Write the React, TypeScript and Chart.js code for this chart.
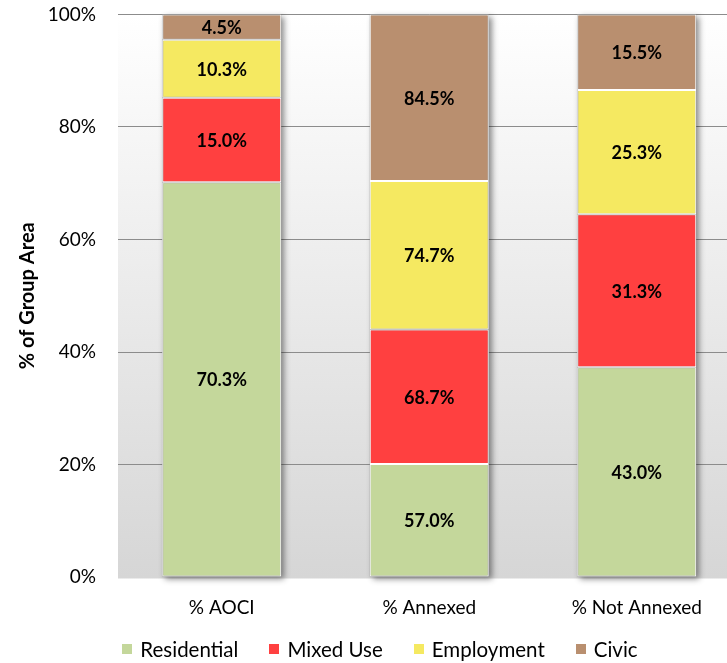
import React, { useEffect, useRef } from "react";
import { Chart, registerables } from "chart.js";

Chart.register(...registerables);

const FONT = "Lato, 'Open Sans', sans-serif";

const categories = ["% AOCI", "% Annexed", "% Not Annexed"];
const seriesNames = ["Residential", "Mixed Use", "Employment", "Civic"];

// segment heights (share of group area, %)
const residential = [70.2, 20.1, 37.3];
const mixedUse = [15.0, 23.9, 27.2];
const employment = [10.3, 26.4, 22.1];
const civic = [4.5, 29.6, 13.4];

// data labels printed in the segments
const residentialLabels = ["70.3%", "57.0%", "43.0%"];
const mixedUseLabels = ["15.0%", "68.7%", "31.3%"];
const employmentLabels = ["10.3%", "74.7%", "25.3%"];
const civicLabels = ["4.5%", "84.5%", "15.5%"];

const yMin = 0;
const yMax = 100;
const yStep = 20;

const colors = ["#c4d79b", "#ff4040", "#f5e961", "#b98f6f"];

const seriesValues = [residential, mixedUse, employment, civic];
const seriesLabels = [residentialLabels, mixedUseLabels, employmentLabels, civicLabels];

const bgPlugin = {
  id: "plotBg",
  beforeDraw(chart: any) {
    const { ctx, chartArea } = chart;
    if (!chartArea) return;
    const g = ctx.createLinearGradient(0, chartArea.top, 0, chartArea.bottom);
    g.addColorStop(0, "#ffffff");
    g.addColorStop(1, "#d6d6d6");
    ctx.save();
    ctx.fillStyle = g;
    ctx.fillRect(chartArea.left, chartArea.top, chartArea.right - chartArea.left, chartArea.bottom - chartArea.top + 1.5);
    ctx.restore();
  },
};

const shadowPlugin = {
  id: "barShadow",
  beforeDatasetsDraw(chart: any) {
    const ctx = chart.ctx;
    const metas = chart.data.datasets.map((_: any, i: number) => chart.getDatasetMeta(i));
    const n = chart.data.labels.length;
    ctx.save();
    ctx.shadowColor = "rgba(0,0,0,0.45)";
    ctx.shadowBlur = 6;
    ctx.shadowOffsetX = 3;
    ctx.shadowOffsetY = 2;
    ctx.fillStyle = "#9a9a9a";
    for (let j = 0; j < n; j++) {
      let top = Infinity;
      let bottom = -Infinity;
      let x = 0;
      let w = 0;
      metas.forEach((m: any) => {
        const el = m.data[j];
        if (!el) return;
        const p = el.getProps(["x", "y", "base", "width"], true);
        top = Math.min(top, p.y, p.base);
        bottom = Math.max(bottom, p.y, p.base);
        x = p.x;
        w = p.width;
      });
      ctx.fillRect(x - w / 2, top, w, bottom - top);
    }
    ctx.restore();
  },
};

const labelPlugin = {
  id: "segLabels",
  afterDatasetsDraw(chart: any) {
    const ctx = chart.ctx;
    ctx.save();
    ctx.font = `bold 18px ${FONT}`;
    ctx.fillStyle = "#000";
    ctx.textAlign = "center";
    ctx.textBaseline = "middle";
    chart.data.datasets.forEach((ds: any, i: number) => {
      const meta = chart.getDatasetMeta(i);
      meta.data.forEach((el: any, j: number) => {
        const p = el.getProps(["x", "y", "base"], true);
        ctx.fillText(ds.segLabels[j], p.x, (p.y + p.base) / 2 + 1);
      });
    });
    ctx.restore();
  },
};

export default function App() {
  const ref = useRef<HTMLCanvasElement>(null);

  useEffect(() => {
    if (!ref.current) return;
    const chart = new Chart(ref.current, {
      type: "bar",
      data: {
        labels: categories,
        datasets: seriesNames.map((name, i) => ({
          label: name,
          data: seriesValues[i],
          segLabels: seriesLabels[i],
          backgroundColor: colors[i],
          borderColor: "#ffffff",
          borderWidth: 1,
          borderSkipped: false,
          categoryPercentage: 1,
          barPercentage: 0.573,
        })) as any,
      },
      options: {
        responsive: false,
        animation: false,
        layout: { padding: { left: 0, right: 19.5, top: 14.5, bottom: 0 } },
        plugins: {
          legend: { display: false },
          tooltip: { enabled: false },
        },
        scales: {
          x: {
            stacked: true,
            grid: { display: false, drawTicks: false },
            border: { display: false },
            ticks: { font: { family: FONT, size: 19 }, color: "#000", padding: 19 },
            afterFit: (s: any) => {
              s.height = 86;
            },
          },
          y: {
            stacked: true,
            min: yMin,
            max: yMax,
            ticks: {
              stepSize: yStep,
              callback: (v: any) => v + "%",
              padding: 22,
              font: { family: FONT, size: 19 },
              color: "#000",
            },
            grid: {
              drawTicks: false,
              lineWidth: 1,
              color: (c: any) => (c.tick && c.tick.value === 0 ? "rgba(0,0,0,0)" : "#8c8c8c"),
            },
            border: { display: false },
            title: {
              display: true,
              text: "% of Group Area",
              font: { family: FONT, size: 20, weight: "bold" },
              color: "#000",
              padding: { top: 16, bottom: 0 },
            },
            afterFit: (s: any) => {
              s.width = 118;
              s.paddingTop = 0;
              s.paddingBottom = 0;
            },
          },
        },
      } as any,
      plugins: [bgPlugin, shadowPlugin, labelPlugin],
    });
    return () => chart.destroy();
  }, []);

  return (
    <div
      style={{
        position: "fixed",
        left: 0,
        top: 0,
        width: 727,
        height: 663,
        overflow: "hidden",
        background: "#fff",
      }}
    >
      <canvas ref={ref} width={760} height={663} style={{ position: "absolute", left: 0, top: 0 }} />
      <div
        style={{
          position: "absolute",
          left: 0,
          top: 638,
          width: 760,
          display: "flex",
          justifyContent: "center",
          gap: 31,
          font: `20.5px ${FONT}`,
          lineHeight: "22px",
          color: "#000",
        }}
      >
        {seriesNames.map((n, i) => (
          <div key={n} style={{ display: "flex", alignItems: "center" }}>
            <span
              style={{
                display: "inline-block",
                width: 10,
                height: 10,
                background: colors[i],
                marginRight: 8,
              }}
            />
            {n}
          </div>
        ))}
      </div>
    </div>
  );
}
